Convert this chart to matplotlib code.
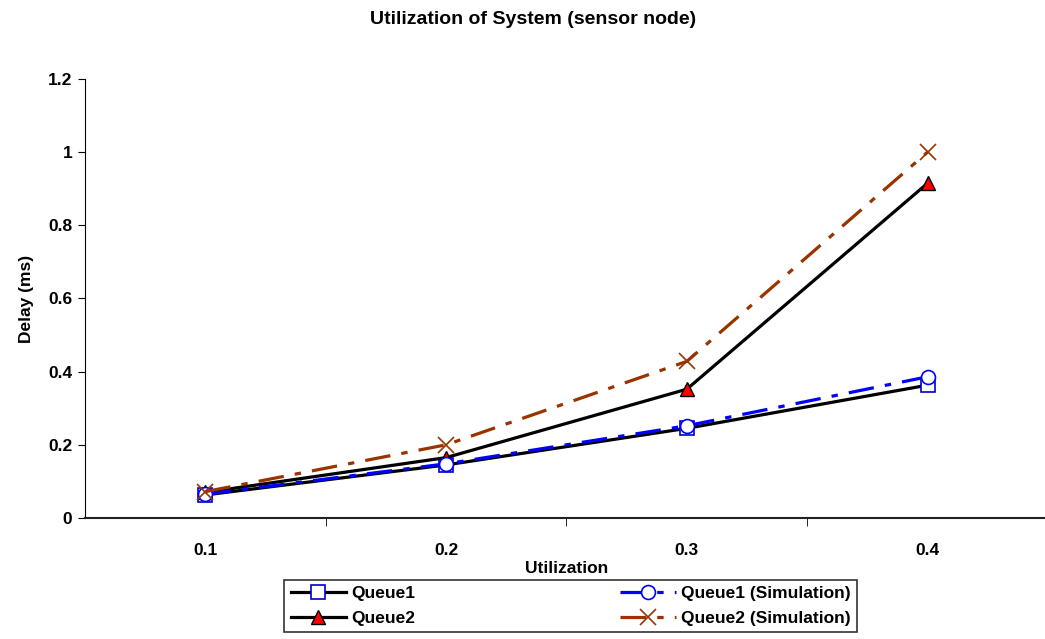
import numpy as np
import matplotlib.pyplot as plt
from matplotlib.ticker import FixedLocator, NullFormatter

plt.rcParams['font.family'] = ['Liberation Sans', 'DejaVu Sans']
plt.rcParams['font.weight'] = 'bold'

# Utilization levels and measured delays (ms)
utilization = ['0.1', '0.2', '0.3', '0.4']
queue1 = [0.063, 0.145, 0.245, 0.363]
queue1_sim = [0.065, 0.148, 0.252, 0.386]
queue2 = [0.07, 0.165, 0.352, 0.915]
queue2_sim = [0.072, 0.2, 0.428, 1.0]

fig = plt.figure(figsize=(10.45, 6.39), dpi=100)
ax = fig.add_axes([0.0813, 0.1894, 0.9215, 0.687])

x = np.arange(len(utilization))
dash = (8, 3.5, 2, 3.5)

ax.plot(x, queue1, color='black', lw=2.3, marker='s', ms=10,
        mfc='white', mec='#0000cc', mew=1.2, label='Queue1', zorder=3)
ax.plot(x, queue1_sim, color='#0000ff', lw=2.3, dashes=dash,
        marker='o', ms=10, mfc='white', mec='#0000ff', mew=1.2,
        label='Queue1 (Simulation)', zorder=4)
ax.plot(x, queue2, color='black', lw=2.3, marker='^', ms=10,
        mfc='#ff0000', mec='black', mew=1.0, label='Queue2', zorder=3)
ax.plot(x, queue2_sim, color='#993300', lw=2.3, dashes=dash,
        marker='x', ms=11, mec='#993300', mew=1.2,
        label='Queue2 (Simulation)', zorder=4)

ax.set_xlim(-0.5, len(utilization) - 0.5)
ax.set_ylim(0, 1.2)
ax.set_yticks(np.arange(0, 1.21, 0.2))
ax.set_yticklabels(['0', '0.2', '0.4', '0.6', '0.8', '1', '1.2'])

# category labels sit between the boundary tick marks
ax.set_xticks(x)
ax.set_xticklabels(utilization)
ax.tick_params(axis='x', which='major', length=0, pad=18, labelsize=12.5)
ax.xaxis.set_minor_locator(FixedLocator([0.5, 1.5, 2.5]))
ax.xaxis.set_minor_formatter(NullFormatter())
ax.tick_params(axis='x', which='minor', length=6, direction='out')
ax.tick_params(axis='y', length=5, direction='out', labelsize=12.5, pad=4)

for s in ['top', 'right']:
    ax.spines[s].set_visible(False)
ax.spines['bottom'].set_color('#222222')
ax.spines['bottom'].set_linewidth(1.5)

fig.text(0.51, 1 - 20 / 639, 'Utilization of System (sensor node)',
         fontsize=14, fontweight='bold', ha='center', va='center')
ax.set_xlabel('Utilization', fontsize=12.5, fontweight='bold', labelpad=2)
ax.set_ylabel('Delay (ms)', fontsize=12.5, fontweight='bold', labelpad=10)

handles, labels = ax.get_legend_handles_labels()
order = [0, 2, 1, 3]
leg = fig.legend([handles[i] for i in order], [labels[i] for i in order],
                 ncol=2, loc='center', bbox_to_anchor=(0.546, 0.0515),
                 frameon=True, fancybox=False, edgecolor='black',
                 fontsize=12.5, handlelength=3.2, columnspacing=11.8,
                 borderpad=0.35, labelspacing=0.55, handletextpad=0.3)
leg.get_frame().set_linewidth(1.2)

fig.savefig('out.png', dpi=100)
